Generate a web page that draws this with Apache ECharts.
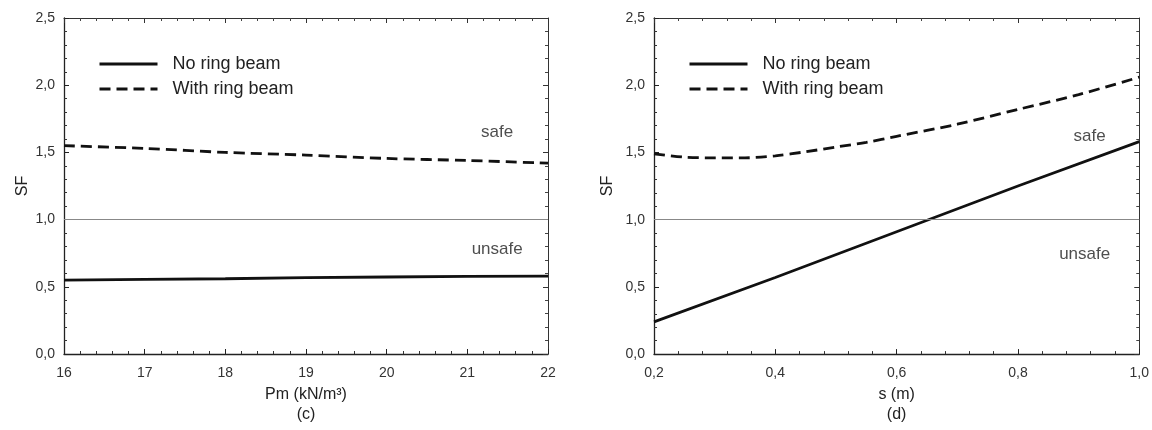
<!DOCTYPE html>
<html>
<head>
<meta charset="utf-8">
<script src="https://cdn.jsdelivr.net/npm/echarts@6/dist/echarts.min.js"></script>
<style>
  html, body { margin: 0; padding: 0; background: #fff; }
  #chart { width: 1152px; height: 430px; }
</style>
</head>
<body>
<div id="chart"></div>
<script>
// (c) SF vs unit weight Pm
const pmValues = [16, 17, 18, 19, 20, 21, 22]
const pmNoBeam = [0.55, 0.555, 0.56, 0.568, 0.573, 0.577, 0.58]
const pmWithBeam = [1.55, 1.53, 1.50, 1.48, 1.455, 1.44, 1.42]

// (d) SF vs spacing s
const sNoBeamX = [0.2, 0.4, 0.6, 0.8, 1.0]
const sNoBeam = [0.24, 0.57, 0.91, 1.25, 1.58]
const sWithBeamX = [0.2, 0.25, 0.3, 0.35, 0.4, 0.45, 0.5, 0.55, 0.6, 0.7, 0.8, 0.9, 1.0]
const sWithBeam = [1.49, 1.465, 1.46, 1.46, 1.475, 1.505, 1.54, 1.575, 1.62, 1.71, 1.82, 1.93, 2.06]

const seriesNames = ['No ring beam', 'With ring beam']
const safeLimit = 1.0

// region labels [x, y, text]
const notesC = [[21.37, 1.65, 'safe'], [21.37, 0.78, 'unsafe']]
const notesD = [[0.918, 1.62, 'safe'], [0.91, 0.74, 'unsafe']]

const FONT = 'Liberation Sans, Arial, sans-serif'
const comma = v => v.toFixed(1).replace('.', ',')
const pairs = (xs, ys) => xs.map((x, i) => [x, ys[i]])

const tickLabel = { color: '#333', fontSize: 14, fontFamily: FONT }

function mainAxis (grid, extra) {
  return Object.assign({
    gridIndex: grid,
    axisLine: { show: true, onZero: false, lineStyle: { color: '#222', width: 1.3 } },
    axisTick: { show: true, inside: true, length: 5, lineStyle: { color: '#222' } },
    minorTick: { show: true, splitNumber: 5, length: 3, lineStyle: { color: '#333' } },
    splitLine: { show: false },
    nameTextStyle: { color: '#222', fontSize: 16, fontFamily: FONT }
  }, extra)
}

function mirrorAxis (grid, extra) {
  return Object.assign({
    gridIndex: grid,
    axisLine: { show: true, onZero: false, lineStyle: { color: '#333', width: 1 } },
    axisTick: { show: true, inside: true, length: 5, lineStyle: { color: '#333' } },
    minorTick: { show: true, splitNumber: 5, length: 3, lineStyle: { color: '#444' } },
    splitLine: { show: false },
    axisLabel: { show: false }
  }, extra)
}

const yRange = { type: 'value', min: 0, max: 2.5, interval: 0.5 }

function lineSeries (name, xi, yi, data, dashed, withLimit) {
  const s = {
    name: name,
    type: 'line',
    xAxisIndex: xi,
    yAxisIndex: yi,
    data: data,
    symbol: 'none',
    smooth: dashed ? 0.3 : false,
    lineStyle: { color: '#111', width: 2.8, type: dashed ? [11, 6] : 'solid' },
    itemStyle: { color: '#111' },
    z: 3
  }
  if (withLimit) {
    s.markLine = {
      silent: true,
      symbol: 'none',
      label: { show: false },
      lineStyle: { color: '#888', width: 1, type: 'solid' },
      data: [{ yAxis: safeLimit }]
    }
  }
  return s
}

function noteSeries (xi, yi, notes) {
  return {
    type: 'scatter',
    xAxisIndex: xi,
    yAxisIndex: yi,
    symbolSize: 0,
    silent: true,
    data: notes.map(n => ({ value: [n[0], n[1]], name: n[2] })),
    label: {
      show: true,
      position: 'inside',
      formatter: p => p.name,
      color: '#222',
      fontSize: 17,
      fontFamily: FONT
    }
  }
}

function legendAt (left) {
  return {
    data: seriesNames,
    orient: 'vertical',
    left: left,
    top: 55,
    padding: 0,
    itemWidth: 58,
    itemHeight: 14,
    itemGap: 7,
    itemStyle: { opacity: 0 },
    lineStyle: { width: 3 },
    textStyle: { color: '#222', fontSize: 18, fontFamily: FONT, padding: [0, 0, 0, 10] }
  }
}

const myChart = echarts.init(document.getElementById('chart'))
const option = {
  backgroundColor: '#fff',
  animation: false,
  legend: [legendAt(98), legendAt(688)],
  grid: [
    { left: 64, top: 18, width: 484, height: 337 },
    { left: 654, top: 18, width: 486, height: 339 }
  ],
  xAxis: [
    mainAxis(0, {
      type: 'value', min: 16, max: 22, interval: 1, position: 'bottom',
      axisLabel: Object.assign({ margin: 12 }, tickLabel),
      name: 'Pm (kN/m³)\n(c)', nameLocation: 'middle', nameGap: 31,
      nameTextStyle: { color: '#222', fontSize: 16, fontFamily: FONT, lineHeight: 20 }
    }),
    mirrorAxis(0, { type: 'value', min: 16, max: 22, interval: 1, position: 'top' }),
    mainAxis(1, {
      type: 'value', min: 0.2, max: 1.0, interval: 0.2, position: 'bottom',
      axisLabel: Object.assign({ margin: 12, formatter: comma }, tickLabel),
      name: 's (m)\n(d)', nameLocation: 'middle', nameGap: 29,
      nameTextStyle: { color: '#222', fontSize: 16, fontFamily: FONT, lineHeight: 20 }
    }),
    mirrorAxis(1, { type: 'value', min: 0.2, max: 1.0, interval: 0.2, position: 'top' })
  ],
  yAxis: [
    mainAxis(0, Object.assign({}, yRange, {
      position: 'left',
      axisLabel: Object.assign({ margin: 9, formatter: comma }, tickLabel),
      name: 'SF', nameLocation: 'middle', nameGap: 33, nameRotate: 90
    })),
    mirrorAxis(0, Object.assign({}, yRange, { position: 'right' })),
    mainAxis(1, Object.assign({}, yRange, {
      position: 'left',
      axisLabel: Object.assign({ margin: 9, formatter: comma }, tickLabel),
      name: 'SF', nameLocation: 'middle', nameGap: 38, nameRotate: 90
    })),
    mirrorAxis(1, Object.assign({}, yRange, { position: 'right' }))
  ],
  series: [
    lineSeries(seriesNames[0], 0, 0, pairs(pmValues, pmNoBeam), false, true),
    lineSeries(seriesNames[1], 0, 0, pairs(pmValues, pmWithBeam), true, false),
    lineSeries(seriesNames[0], 2, 2, pairs(sNoBeamX, sNoBeam), false, true),
    lineSeries(seriesNames[1], 2, 2, pairs(sWithBeamX, sWithBeam), true, false),
    noteSeries(0, 0, notesC),
    noteSeries(2, 2, notesD)
  ]
}
myChart.setOption(option)
</script>
</body>
</html>
